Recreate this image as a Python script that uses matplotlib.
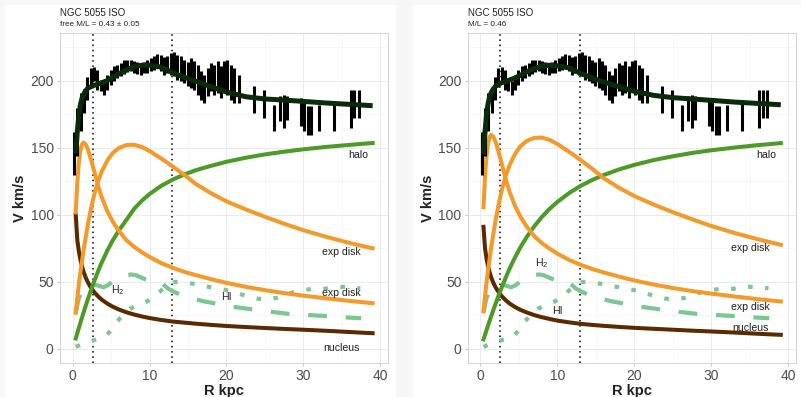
import matplotlib.pyplot as plt
from matplotlib.patches import Rectangle

plt.rcParams['font.family'] = ['Liberation Sans', 'DejaVu Sans']
plt.rcParams['mathtext.fontset'] = 'custom'
plt.rcParams['mathtext.rm'] = 'Liberation Sans'

# observed rotation curve (R kpc, V km/s, error)
r_obs = [0.2, 0.60, 1.04, 1.47, 1.91, 2.34, 2.77, 3.21, 3.64, 4.08, 4.51, 4.94, 5.38,
         5.81, 6.25, 6.68, 7.11, 7.55, 7.98, 8.42, 8.85, 9.28, 9.72, 10.15, 10.59,
         11.02, 11.45, 11.89, 12.32, 12.76, 13.19, 13.62, 14.06, 14.49, 14.93, 15.36,
         15.79, 16.23, 16.66, 17.10, 17.53, 17.96, 18.40, 18.83, 19.27, 19.70, 20.13,
         20.57, 21.00, 21.57, 23.61, 24.82, 26.21, 26.99, 27.43, 27.86, 29.68, 30.12,
         30.55, 30.99, 31.98, 34.02, 36.19, 36.63, 37.19]
v_obs = [146, 161.6, 176.5, 184.8, 194.3, 202.4, 204.7, 200.5, 196.4, 194.5, 198.9,
         202.6, 205.1, 207.0, 208.4, 210.2, 211.0, 211.1, 210.3, 209.4, 208.8, 209.7,
         210.7, 212.0, 213.2, 214.8, 213.2, 211.1, 212.2, 212.6, 212.2, 210.0, 208.8,
         207.0, 204.7, 205.7, 203.9, 200.7, 196.4, 193.9, 198.9, 202.6, 200.7, 202.6,
         198.9, 203.9, 202.6, 198.9, 196.4, 193.9, 185.8, 182.7, 172.2, 179.0, 177.2,
         179.6, 176.5, 174.0, 170.3, 170.3, 172.2, 172.8, 179.0, 182.7, 182.5]
e_obs = [16, 18, 14.3, 9, 8.5, 7.1, 5.2, 7.2, 4.4, 5, 5.6, 5.6, 5.6, 5, 4.7, 5, 4.7,
         4.1, 4.6, 4.2, 4.4, 4, 5, 5, 5, 5.3, 6.2, 6.6, 6.5, 8.1, 9, 9.4, 9.3, 8.7, 9,
         11.2, 10.6, 11.2, 10.6, 10.6, 10.6, 10.6, 11.2, 11.8, 11.8, 10.6, 13, 13, 13,
         10.6, 10, 10.6, 10, 9.3, 12.4, 8.7, 10.6, 11.8, 10.6, 10.6, 10, 10.6, 14.3,
         10.6, 10.3]

# model radii
r_mod = [0.4, 0.6, 0.8, 1.0, 1.2, 1.4, 1.7, 2.0, 2.4, 2.8, 3.3, 3.8, 4.5, 5.2, 6, 7, 8,
         9, 10, 11.5, 13, 14.5, 16, 18, 20, 22.5, 25, 27.5, 30, 33, 36, 39]

# free M/L fit
nuc_l = [100, 81.1, 72.8, 66.6, 61.8, 57.8, 53.1, 49.4, 45.4, 42.3, 39.2, 36.6, 33.8,
         31.5, 29.4, 27.3, 25.6, 24.2, 23.0, 21.6, 20.4, 19.6, 18.8, 17.9, 17.1, 16.3,
         15.6, 14.9, 14.3, 13.5, 12.6, 11.7]
inner_l = [101.8, 124.2, 139.1, 147.6, 152.4, 153.9, 152.4, 148.4, 140.9, 132.4, 121.7,
           112.7, 102.7, 95.0, 88.0, 81.0, 76.0, 72.0, 68.5, 64.0, 60.5, 57.5, 55.0,
           52.0, 49.2, 46.3, 43.8, 41.6, 39.7, 37.7, 35.8, 34.1]
outer_l = [27, 38, 48, 57, 65, 73, 83.5, 93.5, 105, 115, 125, 132.5, 140.5, 146, 149.8,
           152, 152.2, 150.5, 147.5, 142, 136, 129.8, 123, 116, 110, 104, 98.5, 93.3,
           88.5, 83.5, 79, 75]
halo_l = [7.8, 11.7, 15.6, 19.4, 23.2, 26.9, 32.3, 37.5, 44.2, 50.5, 57.9, 64.7, 73.3,
          80.8, 88.3, 96.3, 104.5, 110.5, 115.5, 121.5, 126.2, 130.0, 133.2, 136.5,
          139.5, 142.5, 145.0, 147.0, 148.8, 150.6, 152.1, 153.5]
tot_l = [146, 162, 174, 182, 186.5, 189.5, 192.5, 194.5, 195.5, 196.5, 197.5, 198.5,
         200, 202.5, 205, 208, 210.5, 211.5, 211.5, 210, 206, 202.5, 199.5, 195.5,
         191.5, 188, 186.3, 185.5, 184.5, 183.3, 182.3, 181.3]

# fixed M/L fit
nuc_r = [91, 75, 67, 61.5, 57, 53.3, 49, 45.6, 42, 39.1, 36.2, 33.8, 31.2, 29.1, 27.2,
         25.2, 23.6, 22.3, 21.1, 19.8, 18.7, 17.9, 17.2, 16.4, 15.7, 15.0, 14.3, 13.6,
         13.0, 12.2, 11.3, 10.5]
inner_r = [105.6, 128.8, 144.2, 153.1, 158.0, 159.6, 158.0, 153.9, 146.1, 137.3, 126.2,
           116.9, 106.5, 98.5, 91.3, 84.0, 78.8, 74.7, 71.0, 66.4, 62.7, 59.6, 57.0,
           53.9, 51.0, 48.0, 45.4, 43.1, 41.2, 39.1, 37.1, 35.4]
outer_r = [28, 39.3, 49.7, 59, 67.3, 75.6, 86.4, 96.8, 108.7, 119, 129.4, 137.1, 145.4,
           151.1, 155.0, 157.3, 157.5, 155.8, 152.7, 147.0, 140.8, 134.3, 127.3, 120.1,
           113.9, 107.6, 101.9, 96.6, 91.6, 86.4, 81.8, 77.6]
halo_r = [7.1, 10.6, 14.1, 17.6, 21.0, 24.4, 29.4, 34.1, 40.4, 46.4, 53.3, 60.0, 68.3,
          75.8, 83.3, 91.5, 98.5, 104.5, 109.6, 116.1, 121.5, 125.9, 129.6, 133.8,
          137.2, 140.8, 143.6, 146.1, 148.1, 150.1, 151.9, 153.4]
tot_r = [145, 162, 175, 183, 188, 191, 194, 196, 197.5, 198.5, 199.5, 200.5, 202, 204,
         206.5, 209, 211, 211.5, 211, 209.5, 205.5, 202, 199, 195.5, 192, 189, 187.3,
         186.3, 185.3, 184, 183, 182]

# gas
h2_r = [0.4, 0.8, 1.3, 2.0, 2.8, 3.4, 4.0, 4.6, 5.2, 5.8, 6.4, 7.0, 7.6, 8.2, 8.8, 9.4,
        10.0, 10.6, 11.2, 11.8, 12.4, 13.0, 14, 15, 16, 17, 18, 19, 20, 22, 24, 26,
        28, 30, 32, 34, 36, 37.5]
h2_v = [27, 38, 44, 47, 48, 47, 46, 47.5, 50.5, 53, 54.5, 55, 55.5, 55, 53.5, 52, 51,
        51.5, 51, 48, 45, 43, 40.5, 38.5, 37, 35.5, 34.5, 33.2, 32, 30.5, 29, 27.5,
        26.2, 25.5, 24.8, 24.2, 23.3, 22.9]
hi_r = [0.4, 1.2, 2.2, 3.3, 4.3, 5.0, 5.7, 6.5, 7.5, 8.5, 9.7, 10.8, 11.8, 12.6, 13.3,
        14.5, 15.7, 17, 18.1, 19.3, 20.5, 21.7, 22.9, 24, 25.3, 26.5, 27.7, 28.8, 29.8,
        31, 32.4, 33.6, 34.8, 36, 37.4]
hi_v = [1.5, 3.5, 5.5, 7.5, 9.5, 14, 20, 25, 30, 33, 35.5, 40, 45, 48.5, 50, 49.5, 48.5,
        47, 45.8, 44.5, 43.3, 41, 39, 37.5, 36.8, 38, 40.5, 42.5, 44, 44.5, 44.5, 45.5,
        46.3, 45.8, 45.3]

r_marks = [2.6, 12.9]

C_ORANGE = '#f39a2b'
C_HALO = '#4d9a27'
C_NUC = '#5a2a00'
C_TOT = '#0b2a0b'
C_GAS = '#7cc693'

fig = plt.figure(figsize=(8.01, 3.97), dpi=100)
fig.patch.set_facecolor('#f7f7f7')
fig.patches.append(Rectangle((5 / 801, 0), 391 / 801, 392 / 397, transform=fig.transFigure,
                             facecolor='white', edgecolor='none', zorder=-5))
fig.patches.append(Rectangle((413 / 801, 0), 388 / 801, 392 / 397, transform=fig.transFigure,
                             facecolor='white', edgecolor='none', zorder=-5))


def panel(ax, nuc, inner, outer, halo, tot, labels, title, sub, x0):
    ax.set_zorder(2)
    ax.set_xlim(-1.65, 41.0)
    ax.set_ylim(-10.5, 235.5)
    ax.set_xticks([0, 10, 20, 30, 40])
    ax.set_yticks([0, 50, 100, 150, 200])
    ax.set_xticks([5, 15, 25, 35], minor=True)
    ax.set_yticks([25, 75, 125, 175, 225], minor=True)
    ax.grid(which='major', color='#ebebeb', lw=0.7)
    ax.grid(which='minor', color='#f4f4f4', lw=0.5)
    ax.set_axisbelow(True)
    for s in ax.spines.values():
        s.set_color('#d4d4d4')
        s.set_linewidth(0.7)
    ax.tick_params(which='major', length=2.5, width=0.5, color='#b3b3b3',
                   labelcolor='#4d4d4d', labelsize=10, pad=2)
    ax.tick_params(which='minor', length=0)

    for rm in r_marks:
        ax.axvline(rm, color='black', lw=1.1, ls=(0, (1, 2.4)), zorder=1.5)

    ax.plot(hi_r, hi_v, color=C_GAS, lw=3.0, ls=(0, (1.1, 3.0)),
            dash_capstyle='butt', zorder=2)
    ax.plot(h2_r, h2_v, color=C_GAS, lw=3.0, ls=(0, (4.5, 4.5)),
            dash_capstyle='butt', zorder=2)
    ax.plot(r_mod, nuc, color=C_NUC, lw=2.9, zorder=2.2)
    ax.plot(r_mod, halo, color=C_HALO, lw=2.9, zorder=2.3)
    ax.plot(r_mod, inner, color=C_ORANGE, lw=2.9, zorder=2.4)
    ax.plot(r_mod, outer, color=C_ORANGE, lw=2.9, zorder=2.4)

    lo = [v - e for v, e in zip(v_obs, e_obs)]
    hi = [v + e for v, e in zip(v_obs, e_obs)]
    ax.vlines(r_obs, lo, hi, color='black', lw=2.2, zorder=2.6)
    ax.plot(r_mod, tot, color=C_TOT, lw=3.6, zorder=2.8, solid_capstyle='butt')

    for txt, x, y in labels:
        ax.text(x, y, txt, fontsize=7.6, color='#222222', ha='center', va='center', zorder=3)

    ax.set_xlabel('R kpc', fontsize=10.5, fontweight='bold', color='#222222', va='center')
    ax.xaxis.set_label_coords(0.5, -0.084)
    ax.set_ylabel('V km/s', fontsize=10.5, fontweight='bold', color='#222222', va='center')
    ax.yaxis.set_label_coords(-40 / 328, 0.5)

    fig.text(x0 / 801, 1 - 12.7 / 397, title, fontsize=7.0, color='#222222',
             ha='left', va='center')
    fig.text(x0 / 801, 1 - 25 / 397, sub, fontsize=5.9, color='#222222',
             ha='left', va='center')


ax1 = fig.add_axes([60 / 801, 34 / 397, 328 / 801, 330 / 397])
ax2 = fig.add_axes([467.7 / 801, 34 / 397, 328.5 / 801, 330 / 397])

labels_l = [('halo', 37.1, 144.8), ('exp disk', 35.0, 72.6), ('exp disk', 35.0, 42.0),
            ('nucleus', 35.0, 1.0), (r'H$_2$', 5.9, 43.5), ('HI', 20.0, 38.6)]
labels_r = [('halo', 37.1, 144.8), ('exp disk', 35.1, 75.1), ('exp disk', 35.1, 31.6),
            ('nucleus', 35.1, 15.4), (r'H$_2$', 8.0, 64.0), ('HI', 10.0, 28.4)]

panel(ax1, nuc_l, inner_l, outer_l, halo_l, tot_l, labels_l, 'NGC 5055 ISO',
      'free M/L = 0.43 \u00b1 0.05', 60)
panel(ax2, nuc_r, inner_r, outer_r, halo_r, tot_r, labels_r, 'NGC 5055 ISO',
      'M/L = 0.46', 467.7)

fig.savefig('out.png', dpi=100, facecolor=fig.get_facecolor())
